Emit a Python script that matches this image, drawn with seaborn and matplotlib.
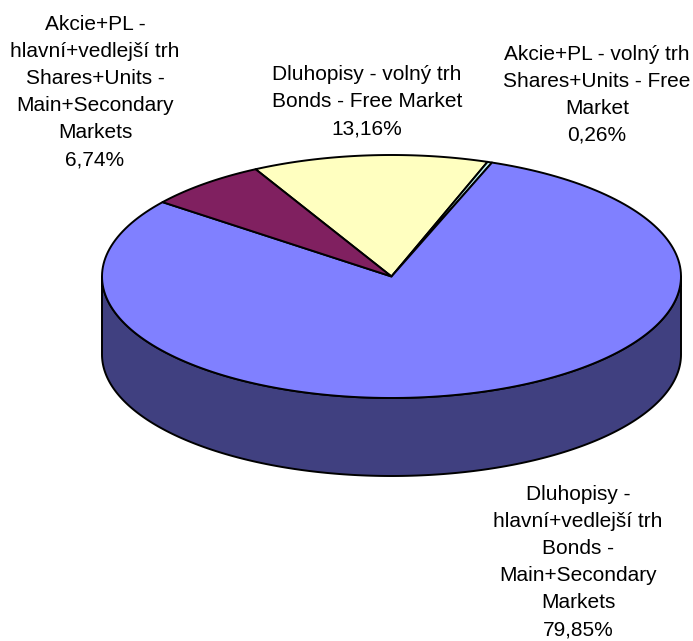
import numpy as np
import matplotlib.pyplot as plt
import matplotlib.colors as mcolors
import seaborn as sns

# slices in clockwise order, starting at the yellow one
labels = [
    ["Dluhopisy - volný trh", "Bonds - Free Market", "13,16%"],
    ["Akcie+PL - volný trh", "Shares+Units - Free", "Market", "0,26%"],
    ["Dluhopisy -", "hlavní+vedlejší trh", "Bonds -", "Main+Secondary", "Markets", "79,85%"],
    ["Akcie+PL -", "hlavní+vedlejší trh", "Shares+Units -", "Main+Secondary", "Markets", "6,74%"],
]
shares = [13.16, 0.26, 79.85, 6.74]
colors = ["#FFFFC0", "#C0F0F0", "#8080FF", "#802060"]

# label anchors in pixels: centre x, first baseline y
label_pos = [(367, 80), (597, 59.5), (578, 500), (95, 30)]

sns.set_theme(style="white")
plt.rcParams["font.family"] = ["Liberation Sans", "DejaVu Sans"]

W, H = 693, 641
fig = plt.figure(figsize=(W / 100, H / 100), dpi=100)
ax = fig.add_axes([0, 0, 1, 1])
ax.set_xlim(0, W)
ax.set_ylim(H, 0)
ax.axis("off")

cx, cy, a, b, depth = 391.5, 276.5, 289.5, 121.5, 78
start = -28.0
lw = 1.4

angles = np.cumsum([0] + [s / sum(shares) * 360 for s in shares]) + start


def rim(t0, t1, n=200):
    t = np.radians(np.linspace(t0, t1, n))
    return cx + a * np.sin(t), cy - b * np.cos(t)


# side wall: the front half of the disc (90..270 deg clockwise from top)
for i, col in enumerate(colors):
    for off in (-360, 0, 360):
        t0 = max(angles[i] + off, 90)
        t1 = min(angles[i + 1] + off, 270)
        if t1 <= t0:
            continue
        xs, ys = rim(t0, t1)
        px = np.concatenate([xs, xs[::-1]])
        py = np.concatenate([ys, ys[::-1] + depth])
        dark = np.array(mcolors.to_rgb(col)) * 0.5
        ax.fill(px, py, facecolor=dark, edgecolor="black", lw=lw, joinstyle="round")

# top face
for i, col in enumerate(colors):
    xs, ys = rim(angles[i], angles[i + 1])
    ax.fill(np.r_[cx, xs], np.r_[cy, ys], facecolor=col, edgecolor="black",
            lw=lw, joinstyle="round")

step = 27.1
for lines, (lx, ly) in zip(labels, label_pos):
    for k, line in enumerate(lines):
        ax.text(lx, ly + k * step, line, ha="center", va="baseline",
                fontsize=15, color="black")

fig.savefig("out.png", dpi=100)
